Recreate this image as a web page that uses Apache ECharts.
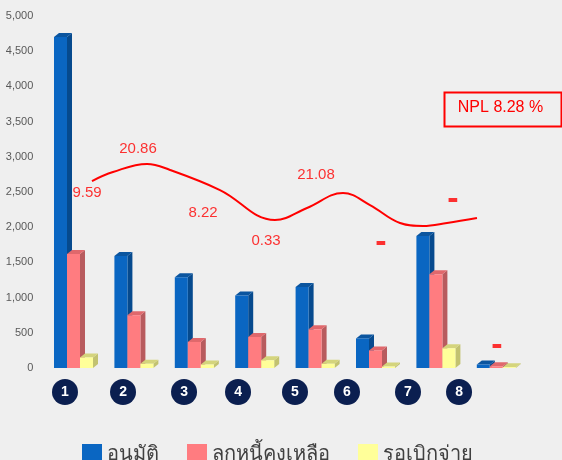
<!DOCTYPE html>
<html>
<head>
<meta charset="utf-8">
<script src="https://cdn.jsdelivr.net/npm/echarts@6/dist/echarts.min.js"></script>
<style>html,body{margin:0;padding:0;background:#efefef;}#c{width:562px;height:460px;}</style>
</head>
<body>
<div id="c"></div>
<script>
// ---- data ----
const categories = ['1','2','3','4','5','6','7','8'];
const seriesNames = ['อนุมัติ','ลูกหนี้คงเหลือ','รอเบิกจ่าย'];
const approved   = [4700, 1590, 1290, 1030, 1150, 420, 1875, 50];
const remaining  = [1620, 750, 370, 440, 550, 250, 1330, 25];
const pending    = [150, 60, 50, 110, 60, 20, 280, 12];
const yTicks = [0, 500, 1000, 1500, 2000, 2500, 3000, 3500, 4000, 4500, 5000];
// smooth red curve, x in category units
const curveX = [0.306, 0.654, 1.217, 1.598, 2.425, 3.336, 3.866, 4.462, 4.909, 5.406, 5.786, 6.184, 6.680];
const curveY = [2656, 2784, 2898, 2813, 2528, 2102, 2273, 2486, 2315, 2060, 2017, 2060, 2131];
// percentage labels per category
const pctLabels = ['9.59','20.86','8.22','0.33','21.08','-','-','-'];
const pctX = [0.224, 1.068, 2.144, 3.187, 4.015, 5.091, 6.283, 7.012];
const pctY = [2486, 3111, 2202, 1804, 2741, 1776, 2386, 313];
// circled category markers
const markerX = [-0.141, 0.820, 1.830, 2.724, 3.667, 4.528, 5.538, 6.383];
const markerY = -341;
const nplText = 'NPL 8.28 %';

const palettes = [
  {front:'#0a66c2', side:'#064a8e', top:'#0b559f'},
  {front:'#ff7c80', side:'#b85b5e', top:'#e0686c'},
  {front:'#ffff99', side:'#c2c270', top:'#d4d47c'}
];

function render3D(idx){
  const pal = palettes[idx];
  return function(params, api){
    const c = api.coord([api.value(0), api.value(1)]);
    const b = api.coord([api.value(0), 0]);
    const bw = 13, dx = 5, dy = 4;
    const x0 = c[0] - 19.5 + idx*bw;
    const top = c[1], base = b[1];
    return {
      type:'group',
      children:[
        {type:'polygon', shape:{points:[[x0+bw,top],[x0+bw+dx,top-dy],[x0+bw+dx,base-dy],[x0+bw,base]]}, style:{fill:pal.side}},
        {type:'polygon', shape:{points:[[x0,top],[x0+dx,top-dy],[x0+bw+dx,top-dy],[x0+bw,top]]}, style:{fill:pal.top}},
        {type:'rect', shape:{x:x0, y:top, width:bw, height:base-top}, style:{fill:pal.front}}
      ]
    };
  };
}

const barData = [approved, remaining, pending];
const barSeries = barData.map((arr, idx) => ({
  name: seriesNames[idx],
  type: 'custom',
  xAxisIndex: 0, yAxisIndex: 0,
  itemStyle: {color: palettes[idx].front},
  renderItem: render3D(idx),
  encode: {x:0, y:1},
  data: arr.map((v,i)=>[i, v]),
  z: 2 + idx
}));

const chart = echarts.init(document.getElementById('c'), null, {renderer:'canvas'});
chart.setOption({
  backgroundColor:'#efefef',
  animation:false,
  grid:{left:43.3, right:35.5, top:16, bottom:92},
  xAxis:[
    {type:'category', data:categories, axisLine:{show:false}, axisTick:{show:false}, axisLabel:{show:false}, splitLine:{show:false}},
    {type:'value', min:-0.5, max:7.5, show:false}
  ],
  yAxis:{
    type:'value', min:yTicks[0], max:yTicks[yTicks.length-1], interval:500,
    axisLine:{show:false}, axisTick:{show:false}, splitLine:{show:false},
    axisLabel:{color:'#595959', fontSize:11, fontFamily:'Liberation Sans', margin:10,
      formatter: v => v.toLocaleString('en-US')}
  },
  legend:{
    left:77, top:439, itemWidth:20, itemHeight:20, itemGap:28,
    textStyle:{fontSize:20, color:'#404040', fontFamily:'Noto Sans, sans-serif'},
    data: seriesNames.map(n=>({name:n, icon:'rect'}))
  },
  graphic:[
    {type:'rect', left:442, top:90, shape:{width:117, height:34}, style:{fill:null, stroke:'#ff0000', lineWidth:2}},
    {type:'text', x:500.5, y:108, style:{text:nplText, fill:'#ff0000', font:'16px "Liberation Sans"', textAlign:'center', textVerticalAlign:'middle'}}
  ],
  series:[
    ...barSeries,
    {
      type:'line', xAxisIndex:1, yAxisIndex:0, smooth:0.4, showSymbol:false, symbol:'none',
      lineStyle:{color:'#ff0000', width:2}, z:5, clip:false,
      data: curveX.map((x,i)=>[x, curveY[i]])
    },
    {
      type:'scatter', xAxisIndex:1, yAxisIndex:0, symbolSize:0, clip:false, z:6,
      data: pctX.map((x,i)=>[x, pctY[i], pctLabels[i]]),
      label:{show:true, position:'inside', formatter: p => p.data[2] === '-' ? '{d|-}' : p.data[2],
        color:'#ff0000', fontSize:15, fontFamily:'Liberation Sans',
        rich:{d:{fontSize:34, fontWeight:'bold', color:'#ff0000', fontFamily:'Liberation Sans'}}}
    },
    {
      type:'scatter', xAxisIndex:1, yAxisIndex:0, symbol:'circle', symbolSize:26, clip:false, z:6,
      itemStyle:{color:'#0b1f50', opacity:1},
      data: markerX.map((x,i)=>[x, markerY, categories[i]]),
      label:{show:true, position:'inside', formatter: p => p.data[2], color:'#ffffff', fontSize:14, fontWeight:'bold', fontFamily:'Liberation Sans'}
    }
  ]
});
</script>
</body>
</html>
